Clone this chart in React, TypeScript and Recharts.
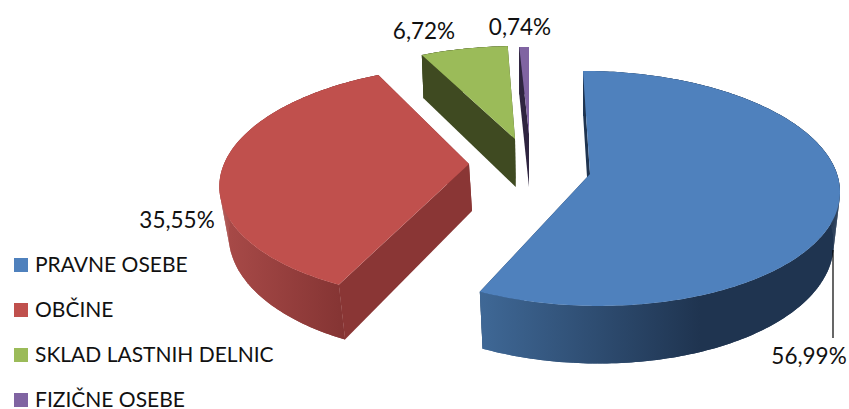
import { PieChart, Pie, Legend } from "recharts";

const CATEGORIES = ["PRAVNE OSEBE", "OBČINE", "SKLAD LASTNIH DELNIC", "FIZIČNE OSEBE"];
const SHARES = [56.99, 35.55, 6.72, 0.74];
const TOP_COLORS = ["#4f81bd", "#c0504d", "#9bbb59", "#8064a2"];

const FONT = "Lato, 'Open Sans', sans-serif";

// Tilted-disc projection per exploded slice: apex position, radii, perspective, shear and wall depth
const SLICE_VIEWS = [
  { ax: 590, ay: 174, rx: 247, ry: 115.7, p: 0.123, shear: 0.068, depth: 50.5, inset: 0.025, wallFrom: "#3f6896", wallTo: "#1f3450", gx1: 480, gx2: 700, inner: "#1f3450" },
  { ax: 469, ay: 164, rx: 245, ry: 114, p: 0.16, shear: -0.07, depth: 47, inset: 0.025, wallFrom: "#a84a48", wallTo: "#843433", gx1: 225, gx2: 345, inner: "#8a3635" },
  { ax: 515, ay: 139, rx: 235, ry: 104.8, p: 0.127, shear: -0.026, depth: 48, inset: 0.01, wallFrom: "#3f4a21", wallTo: "#3f4a21", gx1: 420, gx2: 520, inner: "#3f4a21" },
  { ax: 529, ay: 134, rx: 235, ry: 97.5, p: 0.12, shear: 0, depth: 53, inset: 0, wallFrom: "#2f2540", wallTo: "#2f2540", gx1: 515, gx2: 530, inner: "#2f2540" },
];

const VANISH_X = 590;

const LABEL_SPOTS = [
  { x: 809, y: 355 },
  { x: 177, y: 219 },
  { x: 424, y: 30 },
  { x: 520, y: 26 },
];

const tableData = CATEGORIES.map((name, i) => ({ name, value: SHARES[i], fill: TOP_COLORS[i] }));

type View = (typeof SLICE_VIEWS)[number];
type Pt = { x: number; y: number; f: number };

function project(view: View, deg: number): Pt {
  const rad = (deg * Math.PI) / 180;
  const u = Math.cos(rad);
  const v = -Math.sin(rad);
  const f = 1 / (1 - view.p * v);
  return {
    x: view.ax + view.rx * u * f + view.shear * view.ry * v * f,
    y: view.ay + view.ry * v * f,
    f,
  };
}

function drop(view: View, pt: Pt): Pt {
  return { x: pt.x - view.inset * (pt.x - VANISH_X), y: pt.y + view.depth * pt.f, f: pt.f };
}

const toPath = (pts: Pt[]) =>
  "M" + pts.map((p) => `${p.x.toFixed(2)},${p.y.toFixed(2)}`).join("L") + "Z";

// Draws one slice as a raised wedge from the angles the Pie hands over
function WedgeShape(props: any) {
  const i = CATEGORIES.indexOf(props.name);
  const view = SLICE_VIEWS[i];
  const { startAngle, endAngle, fill } = props;
  const steps = Math.max(2, Math.ceil(Math.abs(startAngle - endAngle)));
  const arc: Pt[] = [];
  for (let k = 0; k <= steps; k++) {
    arc.push(project(view, startAngle + ((endAngle - startAngle) * k) / steps));
  }
  const lower = arc.map((pt) => drop(view, pt));
  const apex: Pt = { x: view.ax, y: view.ay, f: 1 };
  const first = arc[0];
  const last = arc[arc.length - 1];
  const gradId = `wall-${i}`;
  const wallPaint = `url(#${gradId})`;
  return (
    <g>
      <defs>
        <linearGradient id={gradId} gradientUnits="userSpaceOnUse" x1={view.gx1} y1={0} x2={view.gx2} y2={0}>
          <stop offset="0" stopColor={view.wallFrom} />
          <stop offset="1" stopColor={view.wallTo} />
        </linearGradient>
      </defs>
      <path d={toPath([last, apex, drop(view, apex), drop(view, last)])} fill={view.inner} />
      {/* band underneath hides the seams between quads; the quads keep the side silhouette tangent */}
      <path d={toPath([...arc, ...[...lower].reverse()])} fill={wallPaint} />
      {arc.slice(1).map((pt, k) => (
        <path key={k} d={toPath([arc[k], pt, lower[k + 1], lower[k]])} fill={wallPaint} />
      ))}
      <path d={toPath([first, apex, drop(view, apex), drop(view, first)])} fill={view.inner} />
      <path d={toPath([apex, ...arc])} fill={fill} />
    </g>
  );
}

function ShareLabel(props: any) {
  const spot = LABEL_SPOTS[props.index];
  const text = SHARES[props.index].toFixed(2).replace(".", ",") + "%";
  return (
    <g>
      {props.index === 0 && <line x1={833} y1={250} x2={833} y2={338} stroke="#000" strokeWidth={1.2} />}
      <text x={spot.x} y={spot.y} textAnchor="middle" dominantBaseline="central" fontFamily={FONT} fontSize={22.5} fill="#111">
        {text}
      </text>
    </g>
  );
}

function SideLegend({ payload }: any) {
  return (
    <div style={{ fontFamily: FONT, fontSize: 21, color: "#111" }}>
      {CATEGORIES.map((name, i) => {
        const entry = (payload || []).find((p: any) => p.value === name);
        return (
          <div key={name} style={{ position: "absolute", left: 14, top: i * 45, height: 14, whiteSpace: "nowrap" }}>
            <span style={{ position: "absolute", left: 0, top: 0, width: 14, height: 14, background: entry?.color ?? TOP_COLORS[i] }} />
            <span style={{ position: "absolute", left: 21, top: -2, lineHeight: "16px" }}>{name}</span>
          </div>
        );
      })}
    </div>
  );
}

export default function App() {
  return (
    <div style={{ position: "absolute", left: 0, top: 0, width: 849, height: 409, overflow: "hidden", background: "#fff" }}>
      <PieChart width={849} height={409} margin={{ top: 0, right: 0, bottom: 0, left: 0 }}>
        <Pie
          data={tableData}
          dataKey="value"
          nameKey="name"
          cx={590}
          cy={174}
          outerRadius={115}
          startAngle={90}
          endAngle={-270}
          stroke="none"
          isAnimationActive={false}
          shape={WedgeShape}
          label={ShareLabel}
          labelLine={false}
        />
        <Legend content={<SideLegend />} wrapperStyle={{ position: "absolute", left: 0, top: 258, width: 300, height: 151 }} />
      </PieChart>
    </div>
  );
}
